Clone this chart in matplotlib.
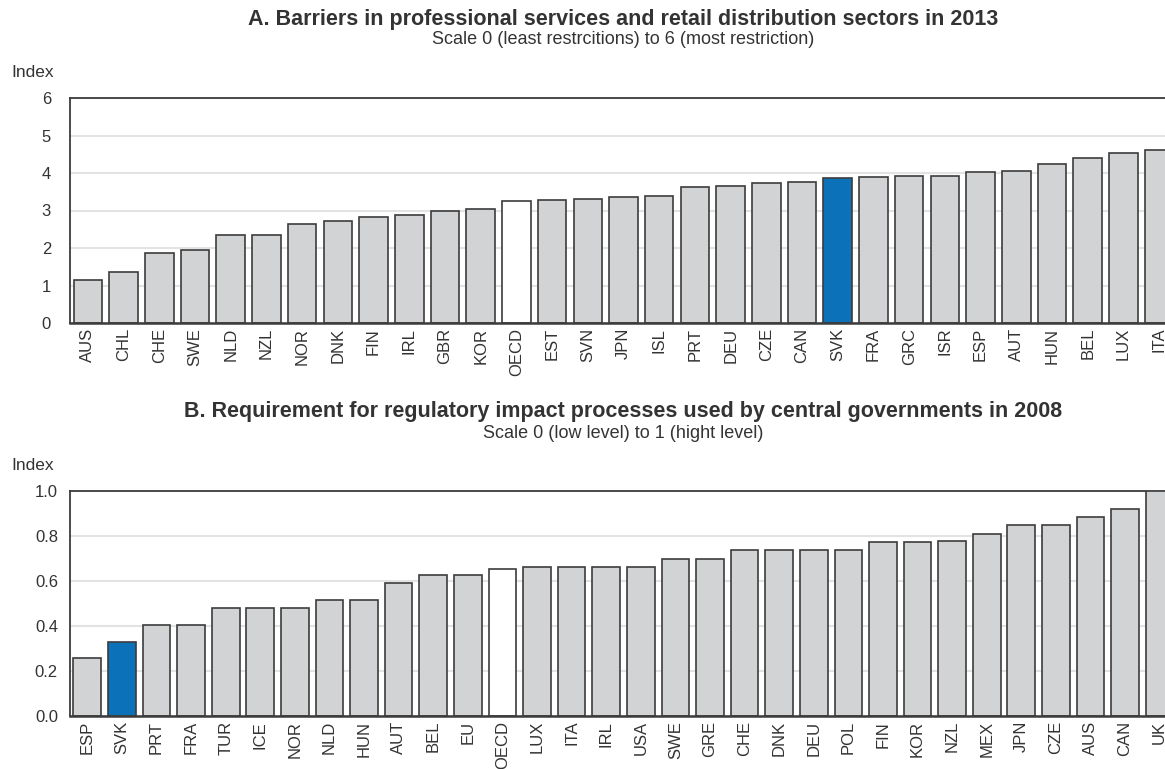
import matplotlib
matplotlib.use("Agg")
import matplotlib.pyplot as plt

plt.rcParams["font.family"] = ["Liberation Sans", "DejaVu Sans"]

# Panel A: barriers in professional services and retail distribution, 2013
countries_a = ["AUS", "CHL", "CHE", "SWE", "NLD", "NZL", "NOR", "DNK", "FIN",
               "IRL", "GBR", "KOR", "OECD", "EST", "SVN", "JPN", "ISL", "PRT",
               "DEU", "CZE", "CAN", "SVK", "FRA", "GRC", "ISR", "ESP", "AUT",
               "HUN", "BEL", "LUX", "ITA"]
values_a = [1.14, 1.37, 1.87, 1.94, 2.34, 2.36, 2.65, 2.71, 2.84, 2.87, 2.99,
            3.03, 3.26, 3.27, 3.30, 3.37, 3.39, 3.63, 3.65, 3.74, 3.75, 3.86,
            3.90, 3.91, 3.93, 4.02, 4.06, 4.25, 4.41, 4.53, 4.62]

# Panel B: requirement for regulatory impact processes, 2008
countries_b = ["ESP", "SVK", "PRT", "FRA", "TUR", "ICE", "NOR", "NLD", "HUN",
               "AUT", "BEL", "EU", "OECD", "LUX", "ITA", "IRL", "USA", "SWE",
               "GRE", "CHE", "DNK", "DEU", "POL", "FIN", "KOR", "NZL", "MEX",
               "JPN", "CZE", "AUS", "CAN", "UK"]
values_b = [0.258, 0.331, 0.405, 0.405, 0.479, 0.479, 0.479, 0.515, 0.515,
            0.59, 0.627, 0.627, 0.655, 0.664, 0.664, 0.664, 0.664, 0.70, 0.70,
            0.736, 0.736, 0.736, 0.736, 0.773, 0.773, 0.776, 0.811, 0.848,
            0.848, 0.885, 0.92, 1.0]

GREY = "#d2d3d5"
BLUE = "#0b72b9"
EDGE = "#3c3c3c"
TXT = "#333333"

W, H = 1165, 769
fig = plt.figure(figsize=(W / 100, H / 100), dpi=100)


def colours(names):
    out = []
    for n in names:
        if n == "SVK":
            out.append(BLUE)
        elif n == "OECD":
            out.append("white")
        else:
            out.append(GREY)
    return out


def panel(rect, names, vals, ymax, yticks, ylabels, title, subtitle, ty, sy, iy):
    ax = fig.add_axes(rect)
    x = range(len(names))
    ax.bar(x, vals, width=0.8, color=colours(names), edgecolor=EDGE,
           linewidth=1.2, zorder=3)
    ax.set_xlim(-0.5, len(names) - 0.5)
    ax.set_ylim(0, ymax)
    ax.set_yticks(yticks)
    ax.set_yticklabels(ylabels, ha="center")
    ax.set_xticks(list(x))
    ax.set_xticklabels(names, rotation=90)
    ax.tick_params(axis="both", length=0, labelsize=12, colors=TXT)
    ax.tick_params(axis="x", pad=3.5)
    ax.tick_params(axis="y", pad=17)
    ax.grid(axis="y", color="#e3e3e3", linewidth=1.5, zorder=0)
    for s in ["top", "left", "bottom", "right"]:
        ax.spines[s].set_color(EDGE)
        ax.spines[s].set_linewidth(1.3)
    ax.spines["bottom"].set_linewidth(1.8)
    ax.spines["bottom"].set_zorder(4)
    cx = rect[0] + rect[2] / 2
    fig.text(cx, 1 - ty / H, title, ha="center", va="center", fontsize=15.5,
             fontweight="bold", color=TXT)
    fig.text(cx, 1 - sy / H, subtitle, ha="center", va="center",
             fontsize=13, color=TXT)
    fig.text(11 / W, 1 - iy / H, "Index", ha="left", va="center",
             fontsize=12.5, color=TXT)
    return ax


left = 70 / W
width = 1107 / W

panel([left, 1 - 323 / H, width, 225 / H], countries_a, values_a, 6,
      range(7), [str(i) for i in range(7)],
      "A. Barriers in professional services and retail distribution sectors in 2013",
      "Scale 0 (least restrcitions) to 6 (most restriction)", 19, 40, 72.5)

panel([left, 1 - 716 / H, width, 225 / H], countries_b, values_b, 1.0,
      [0, 0.2, 0.4, 0.6, 0.8, 1.0], ["0.0", "0.2", "0.4", "0.6", "0.8", "1.0"],
      "B. Requirement for regulatory impact processes used by central governments in 2008",
      "Scale 0 (low level) to 1 (hight level)", 412, 433, 466)

fig.savefig("out.png", dpi=100)
